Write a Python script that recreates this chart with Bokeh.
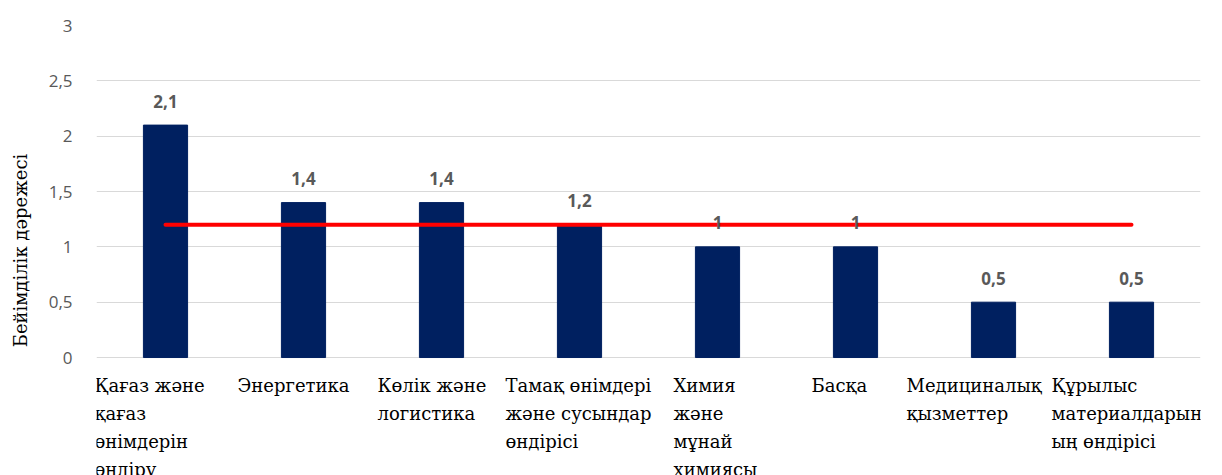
from bokeh.plotting import figure
from bokeh.models import ColumnDataSource, FixedTicker, Range1d, FactorRange
from bokeh.core.properties import value
from bokeh.embed import file_html
from bokeh.resources import INLINE

# ---- data ----
categories = [
    "Қағаз және қағаз өнімдерін өндіру",
    "Энергетика",
    "Көлік және логистика",
    "Тамақ өнімдері және сусындар өндірісі",
    "Химия және мұнай химиясы",
    "Басқа",
    "Медициналық қызметтер",
    "Құрылыс материалдарының өндірісі",
]
category_lines = [
    "Қағаз және\nқағаз\nөнімдерін\nөндіру",
    "Энергетика",
    "Көлік және\nлогистика",
    "Тамақ өнімдері\nжәне сусындар\nөндірісі",
    " Химия\nжәне\nмұнай\nхимиясы",
    "Басқа",
    "Медициналық\nқызметтер",
    "Құрылыс\nматериалдарын\nың өндірісі",
]
values = [2.1, 1.4, 1.4, 1.2, 1.0, 1.0, 0.5, 0.5]
value_labels = ["2,1", "1,4", "1,4", "1,2", "1", "1", "0,5", "0,5"]
average = [1.2, 1.2, 1.2, 1.2, 1.2, 1.2, 1.2, 1.2]
y_ticks = [0, 0.5, 1, 1.5, 2, 2.5, 3]
y_tick_labels = ["0", "0,5", "1", "1,5", "2", "2,5", "3"]
y_title = "Бейімділік дәрежесі"

# ---- styles ----
label_x_offsets = [-71, -66, -64, -74, -44, -44, -87, -80]
Y_BOTTOM = -1.066   # frame extends below zero to host the category labels
BAR_COLOR = "#002060"
GRID_COLOR = "#d9d9d9"
TEXT_GRAY = "#595959"
SERIF = "DejaVu Serif"

src = ColumnDataSource(dict(cat=categories, val=values, lab=value_labels,
                            avg=average, names=category_lines, xoff=label_x_offsets))

p = figure(
    width=1222, height=475,
    x_range=FactorRange(*categories, range_padding=0),
    y_range=Range1d(Y_BOTTOM, 3),
    x_axis_location=None,
    output_backend="svg", toolbar_location=None,
    min_border_left=96, min_border_right=22, min_border_top=25, min_border_bottom=0,
)
p.outline_line_color = None
p.background_fill_color = "white"
p.border_fill_color = "white"

p.vbar(x="cat", top="val", bottom=0, width=0.32, source=src,
       fill_color=BAR_COLOR, line_color=BAR_COLOR)
p.line(x="cat", y="avg", source=src, line_color="#ff0000", line_width=4, line_cap="round")
p.text(x="cat", y="val", text="lab", source=src, y_offset=-24,
       text_align="center", text_baseline="middle",
       text_font=value("Open Sans"), text_font_style="bold",
       text_font_size="17px", text_color=TEXT_GRAY)

# category labels under the zero line
p.text(x="cat", y=0, text="names", source=src, x_offset="xoff", y_offset=17,
       text_align="left", text_baseline="top",
       text_font=value(SERIF), text_font_size="18px",
       text_line_height=1.345, text_color="black")

p.xgrid.visible = False

p.yaxis.ticker = FixedTicker(ticks=y_ticks)
p.yaxis.major_label_overrides = dict(zip(y_ticks, y_tick_labels))
p.yaxis.axis_line_color = None
p.yaxis.major_tick_line_color = None
p.yaxis.minor_tick_line_color = None
p.yaxis.major_label_standoff = 18
p.yaxis.major_label_text_font = "Open Sans"
p.yaxis.major_label_text_font_size = "17px"
p.yaxis.major_label_text_color = TEXT_GRAY
p.yaxis.axis_label = y_title
p.yaxis.axis_label_text_font = SERIF
p.yaxis.axis_label_text_font_size = "18px"
p.yaxis.axis_label_text_font_style = "normal"
p.yaxis.axis_label_text_color = "black"
p.yaxis.axis_label_standoff = 15

p.ygrid.ticker = FixedTicker(ticks=y_ticks)
p.ygrid.grid_line_color = GRID_COLOR
p.ygrid.grid_line_width = 1

open("out.html", "w").write(file_html(p, INLINE))
